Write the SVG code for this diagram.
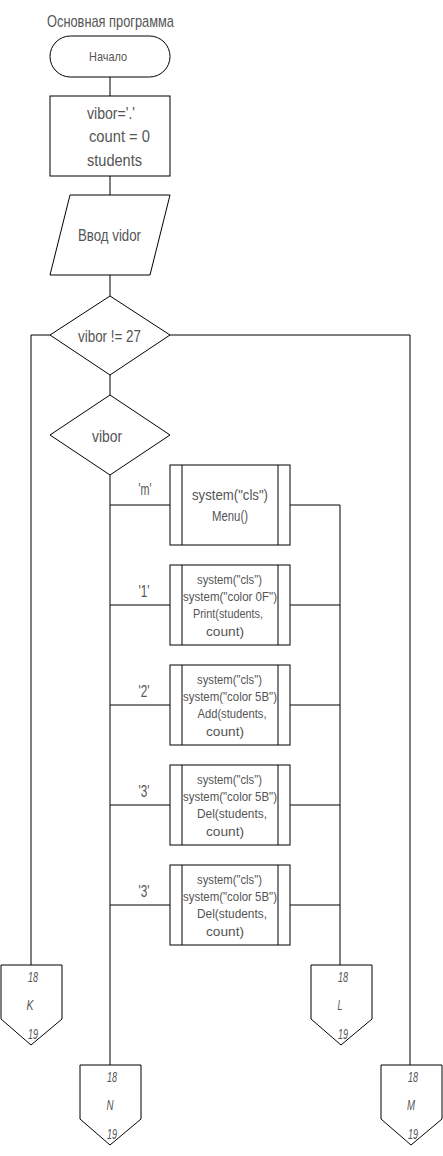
<svg xmlns="http://www.w3.org/2000/svg" width="443" height="1156" viewBox="0 0 443 1156">
<style>
.s{fill:#fff;stroke:#000;stroke-width:1}
.l{fill:none;stroke:#000;stroke-width:1}
.t{font-family:"Liberation Sans",Arial,sans-serif;fill:#555;text-anchor:middle}
.m{font-size:16px}
.sm{font-size:12.5px}
.c{font-family:"Liberation Sans",Arial,sans-serif;font-style:italic;fill:#555;text-anchor:middle;font-size:15px}
</style>
<rect width="443" height="1156" fill="#fff"/>
<g id="connectors">
<path class="l" d="M110 77V96M110 176V195M110 275V296M110 375V395M110 475V1065"/>
<path class="l" d="M50 335H31V965M170 335H410V1065"/>
<path class="l" d="M110 505H170M110 605H170M110 705H170M110 805H170M110 905H170"/>
<path class="l" d="M290 505H340V965M290 605H340M290 705H340M290 805H340M290 905H340"/>
<text class="t m" x="145" y="495" textLength="13" lengthAdjust="spacingAndGlyphs">'m'</text>
<text class="t m" x="144" y="597" textLength="11" lengthAdjust="spacingAndGlyphs">'1'</text>
<text class="t m" x="144" y="697" textLength="11" lengthAdjust="spacingAndGlyphs">'2'</text>
<text class="t m" x="144" y="797" textLength="11" lengthAdjust="spacingAndGlyphs">'3'</text>
<text class="t m" x="144" y="897" textLength="11" lengthAdjust="spacingAndGlyphs">'3'</text>
</g>
<text id="title" class="t" font-size="17" x="110.5" y="27" textLength="127" lengthAdjust="spacingAndGlyphs">Основная программа</text>
<g id="start">
<rect class="s" x="50" y="36" width="120" height="41" rx="20.5"/>
<text class="t" font-size="13" x="108" y="61" textLength="38" lengthAdjust="spacingAndGlyphs">Начало</text>
</g>
<g id="init">
<rect class="s" x="50" y="96" width="120" height="80"/>
<text class="t m" x="111" y="119" textLength="48" lengthAdjust="spacingAndGlyphs">vibor='.'</text>
<text class="t m" x="119.5" y="142" textLength="61" lengthAdjust="spacingAndGlyphs">count = 0</text>
<text class="t m" x="114.5" y="166" textLength="55" lengthAdjust="spacingAndGlyphs">students</text>
</g>
<g id="input">
<polygon class="s" points="70,195 170,195 150,275 50,275"/>
<text class="t m" x="109.5" y="241" textLength="63" lengthAdjust="spacingAndGlyphs">Ввод vidor</text>
</g>
<g id="cond1">
<polygon class="s" points="110,296 170,335 110,375 50,335"/>
<text class="t m" x="109.5" y="342" textLength="63" lengthAdjust="spacingAndGlyphs">vibor != 27</text>
</g>
<g id="cond2">
<polygon class="s" points="110,395 170,435 110,475 50,435"/>
<text class="t m" x="107" y="442" textLength="30" lengthAdjust="spacingAndGlyphs">vibor</text>
</g>
<g id="box1">
<rect class="s" x="170" y="465" width="120" height="80"/>
<path class="l" d="M182 465V545M278 465V545"/>
<text class="t" font-size="15" x="230" y="500" textLength="76" lengthAdjust="spacingAndGlyphs">system("cls")</text>
<text class="t" font-size="15" x="230" y="521" textLength="36" lengthAdjust="spacingAndGlyphs">Menu()</text>
</g>
<g id="box2">
<rect class="s" x="170" y="565" width="120" height="80"/>
<path class="l" d="M182 565V645M278 565V645"/>
<text class="t sm" x="229.5" y="584" textLength="65" lengthAdjust="spacingAndGlyphs">system("cls")</text>
<text class="t sm" x="230" y="601" textLength="94" lengthAdjust="spacingAndGlyphs">system("color 0F")</text>
<text class="t sm" x="228" y="618" textLength="70" lengthAdjust="spacingAndGlyphs">Print(students,</text>
<text class="t sm" x="225" y="636" textLength="38" lengthAdjust="spacingAndGlyphs">count)</text>
</g>
<g id="box3">
<rect class="s" x="170" y="665" width="120" height="80"/>
<path class="l" d="M182 665V745M278 665V745"/>
<text class="t sm" x="229.5" y="684" textLength="65" lengthAdjust="spacingAndGlyphs">system("cls")</text>
<text class="t sm" x="230" y="701" textLength="94" lengthAdjust="spacingAndGlyphs">system("color 5B")</text>
<text class="t sm" x="232" y="718" textLength="69" lengthAdjust="spacingAndGlyphs">Add(students,</text>
<text class="t sm" x="225" y="736" textLength="38" lengthAdjust="spacingAndGlyphs">count)</text>
</g>
<g id="box4">
<rect class="s" x="170" y="765" width="120" height="80"/>
<path class="l" d="M182 765V845M278 765V845"/>
<text class="t sm" x="229.5" y="784" textLength="65" lengthAdjust="spacingAndGlyphs">system("cls")</text>
<text class="t sm" x="230" y="801" textLength="94" lengthAdjust="spacingAndGlyphs">system("color 5B")</text>
<text class="t sm" x="232" y="818" textLength="70" lengthAdjust="spacingAndGlyphs">Del(students,</text>
<text class="t sm" x="225" y="836" textLength="38" lengthAdjust="spacingAndGlyphs">count)</text>
</g>
<g id="box5">
<rect class="s" x="170" y="865" width="120" height="80"/>
<path class="l" d="M182 865V945M278 865V945"/>
<text class="t sm" x="229.5" y="884" textLength="65" lengthAdjust="spacingAndGlyphs">system("cls")</text>
<text class="t sm" x="230" y="901" textLength="94" lengthAdjust="spacingAndGlyphs">system("color 5B")</text>
<text class="t sm" x="232" y="918" textLength="70" lengthAdjust="spacingAndGlyphs">Del(students,</text>
<text class="t sm" x="225" y="936" textLength="38" lengthAdjust="spacingAndGlyphs">count)</text>
</g>
<g id="connK">
<polygon class="s" points="1,965 62,965 62,1019 31,1045 1,1019"/>
<text class="c" x="33" y="982" textLength="10" lengthAdjust="spacingAndGlyphs">18</text>
<text class="c" x="30" y="1010" textLength="7" lengthAdjust="spacingAndGlyphs">K</text>
<text class="c" x="33" y="1039" textLength="10" lengthAdjust="spacingAndGlyphs">19</text>
</g>
<g id="connL">
<polygon class="s" points="311,965 372,965 372,1019 341,1045 311,1019"/>
<text class="c" x="343" y="982" textLength="10" lengthAdjust="spacingAndGlyphs">18</text>
<text class="c" x="340" y="1010" textLength="5" lengthAdjust="spacingAndGlyphs">L</text>
<text class="c" x="343" y="1039" textLength="10" lengthAdjust="spacingAndGlyphs">19</text>
</g>
<g id="connN">
<polygon class="s" points="80,1065 141,1065 141,1119 110,1145 80,1119"/>
<text class="c" x="112" y="1082" textLength="10" lengthAdjust="spacingAndGlyphs">18</text>
<text class="c" x="110" y="1110" textLength="7" lengthAdjust="spacingAndGlyphs">N</text>
<text class="c" x="112" y="1139" textLength="10" lengthAdjust="spacingAndGlyphs">19</text>
</g>
<g id="connM">
<polygon class="s" points="381,1065 442,1065 442,1119 411,1145 381,1119"/>
<text class="c" x="413" y="1082" textLength="10" lengthAdjust="spacingAndGlyphs">18</text>
<text class="c" x="411" y="1110" textLength="8" lengthAdjust="spacingAndGlyphs">M</text>
<text class="c" x="413" y="1139" textLength="10" lengthAdjust="spacingAndGlyphs">19</text>
</g>
</svg>
